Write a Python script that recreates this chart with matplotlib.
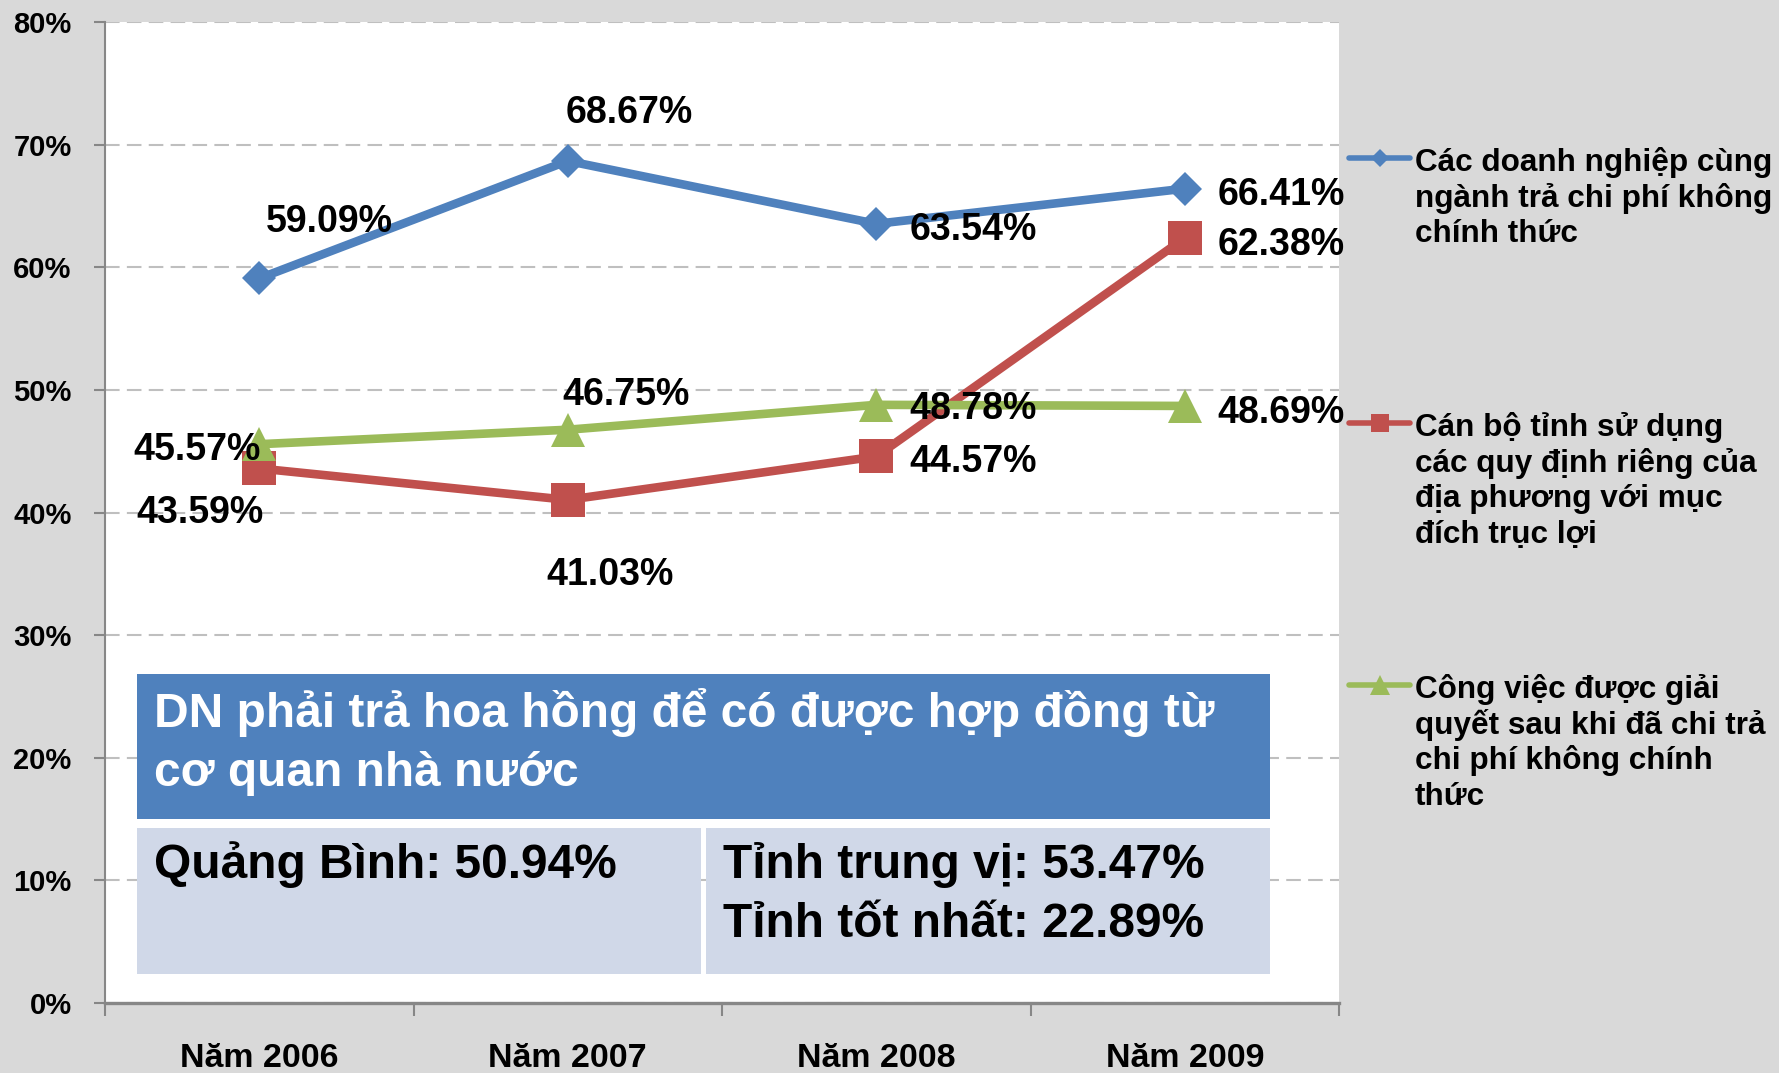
import matplotlib.pyplot as plt
from matplotlib.lines import Line2D
from matplotlib.patches import Rectangle
from matplotlib.ticker import FuncFormatter

# data (percent)
years = ['Năm 2006', 'Năm 2007', 'Năm 2008', 'Năm 2009']
cung_nganh = [59.09, 68.67, 63.54, 66.41]
quy_dinh_rieng = [43.59, 41.03, 44.57, 62.38]
giai_quyet = [45.57, 46.75, 48.78, 48.69]

legend_names = [
    ['Các doanh nghiệp cùng', 'ngành trả chi phí không', 'chính thức'],
    ['Cán bộ tỉnh sử dụng', 'các quy định riêng của', 'địa phương với mục', 'đích trục lợi'],
    ['Công việc được giải', 'quyết sau khi đã chi trả', 'chi phí không chính', 'thức'],
]

box_title = ['DN phải trả hoa hồng để có được hợp đồng từ', 'cơ quan nhà nước']
quang_binh = 50.94
trung_vi = 53.47
tot_nhat = 22.89

W, H = 1779, 1073
BLUE, RED, GREEN = '#4F81BD', '#C0504D', '#9BBB59'
AXIS_GRAY = '#878787'

plt.rcParams['font.family'] = ['Liberation Sans', 'DejaVu Sans']
plt.rcParams['font.weight'] = 'bold'


def fx(x):
    return x / W


def fy(y):
    return 1 - y / H


fig = plt.figure(figsize=(W / 100, H / 100), dpi=100, facecolor='#D9D9D9')
ax = fig.add_axes([fx(105), fy(1003), (1339 - 105) / W, (1003 - 22) / H])
ax.set_facecolor('white')

x = list(range(len(years)))

# (dx, dy, ha) in pixels for each data label
blue_off = [(7, 46, 'left'), (-2, 38, 'left'), (33, -16, 'left'), (33, -16, 'left')]
red_off = [(4, -55, 'right'), (42, -85, 'center'), (33, -16, 'left'), (33, -17, 'left')]
green_off = [(2, -16, 'right'), (-5, 25, 'left'), (33, -14, 'left'), (33, -17, 'left')]

series = [
    (cung_nganh, BLUE, 'D', 17.5, blue_off),
    (quy_dinh_rieng, RED, 's', 24.5, red_off),
    (giai_quyet, GREEN, '^', 25, green_off),
]

for vals, col, mk, ms, offs in series:
    ax.plot(x, vals, color=col, lw=6.2, marker=mk, markersize=ms,
            markeredgewidth=0, zorder=3)
    for xi, v, (dx, dy, ha) in zip(x, vals, offs):
        ax.annotate(f'{v:.2f}%', (xi, v), xytext=(dx, dy), textcoords='offset pixels',
                    ha=ha, va='baseline', fontsize=27, fontweight='bold', zorder=4)

ax.set_xlim(-0.5, len(years) - 0.5)
ax.set_ylim(0, 80)
ax.set_yticks(range(0, 81, 10))
ax.yaxis.set_major_formatter(FuncFormatter(lambda v, p: f'{v:.0f}%'))
ax.tick_params(axis='y', length=8, width=1.5, color=AXIS_GRAY, pad=16, labelsize=21)
ax.set_xticks(x)
ax.set_xticklabels(years)
ax.tick_params(axis='x', which='major', length=0, pad=29, labelsize=24.5)
ax.set_xticks([i - 0.5 for i in range(len(years) + 1)], minor=True)
ax.tick_params(axis='x', which='minor', length=9, width=1.5, color=AXIS_GRAY)

ax.grid(axis='y', color='#BFBFBF', lw=1.5, dashes=(7, 3.5), zorder=0)
ax.set_axisbelow(True)
for s in ['top', 'right']:
    ax.spines[s].set_visible(False)
ax.spines['left'].set_color(AXIS_GRAY)
ax.spines['left'].set_linewidth(1.5)
ax.spines['bottom'].set_color(AXIS_GRAY)
ax.spines['bottom'].set_linewidth(2.4)
ax.spines['bottom'].set_zorder(5)

# summary box over the lower part of the plot
fig.add_artist(Rectangle((fx(137), fy(819)), (1270 - 137) / W, (819 - 674) / H,
                         transform=fig.transFigure, facecolor=BLUE, edgecolor='none'))
fig.add_artist(Rectangle((fx(137), fy(974)), (701 - 137) / W, (974 - 828) / H,
                         transform=fig.transFigure, facecolor='#D0D8E8', edgecolor='none'))
fig.add_artist(Rectangle((fx(706), fy(974)), (1270 - 706) / W, (974 - 828) / H,
                         transform=fig.transFigure, facecolor='#D0D8E8', edgecolor='none'))
for line, yb in zip(box_title, [727, 786]):
    fig.text(fx(154), fy(yb), line, color='white', fontsize=34.5, fontweight='bold',
             va='baseline', ha='left')
fig.text(fx(154), fy(878), f'Quảng Bình: {quang_binh:.2f}%', fontsize=34.5,
         fontweight='bold', va='baseline')
fig.text(fx(723), fy(878), f'Tỉnh trung vị: {trung_vi:.2f}%', fontsize=34.5,
         fontweight='bold', va='baseline')
fig.text(fx(723), fy(937), f'Tỉnh tốt nhất: {tot_nhat:.2f}%', fontsize=34.5,
         fontweight='bold', va='baseline')

# legend on the right, first line level with the handle
leg_handle_y = [158, 423, 685]
leg_base_y = [171, 436, 698]
for (vals, col, mk, ms, offs), names, hy, by in zip(series, legend_names, leg_handle_y, leg_base_y):
    fig.add_artist(Line2D([fx(1349), fx(1410)], [fy(hy), fy(hy)], transform=fig.transFigure,
                          color=col, lw=4, solid_capstyle='round'))
    fig.add_artist(Line2D([fx(1379.5)], [fy(hy)], transform=fig.transFigure, color=col,
                          marker=mk, markersize=ms * 0.55, markeredgewidth=0, lw=0))
    for i, name in enumerate(names):
        fig.text(fx(1415), fy(by + i * 35.7), name, fontsize=22.7, fontweight='bold',
                 va='baseline', ha='left')

fig.savefig('out.png', dpi=100, facecolor=fig.get_facecolor())
